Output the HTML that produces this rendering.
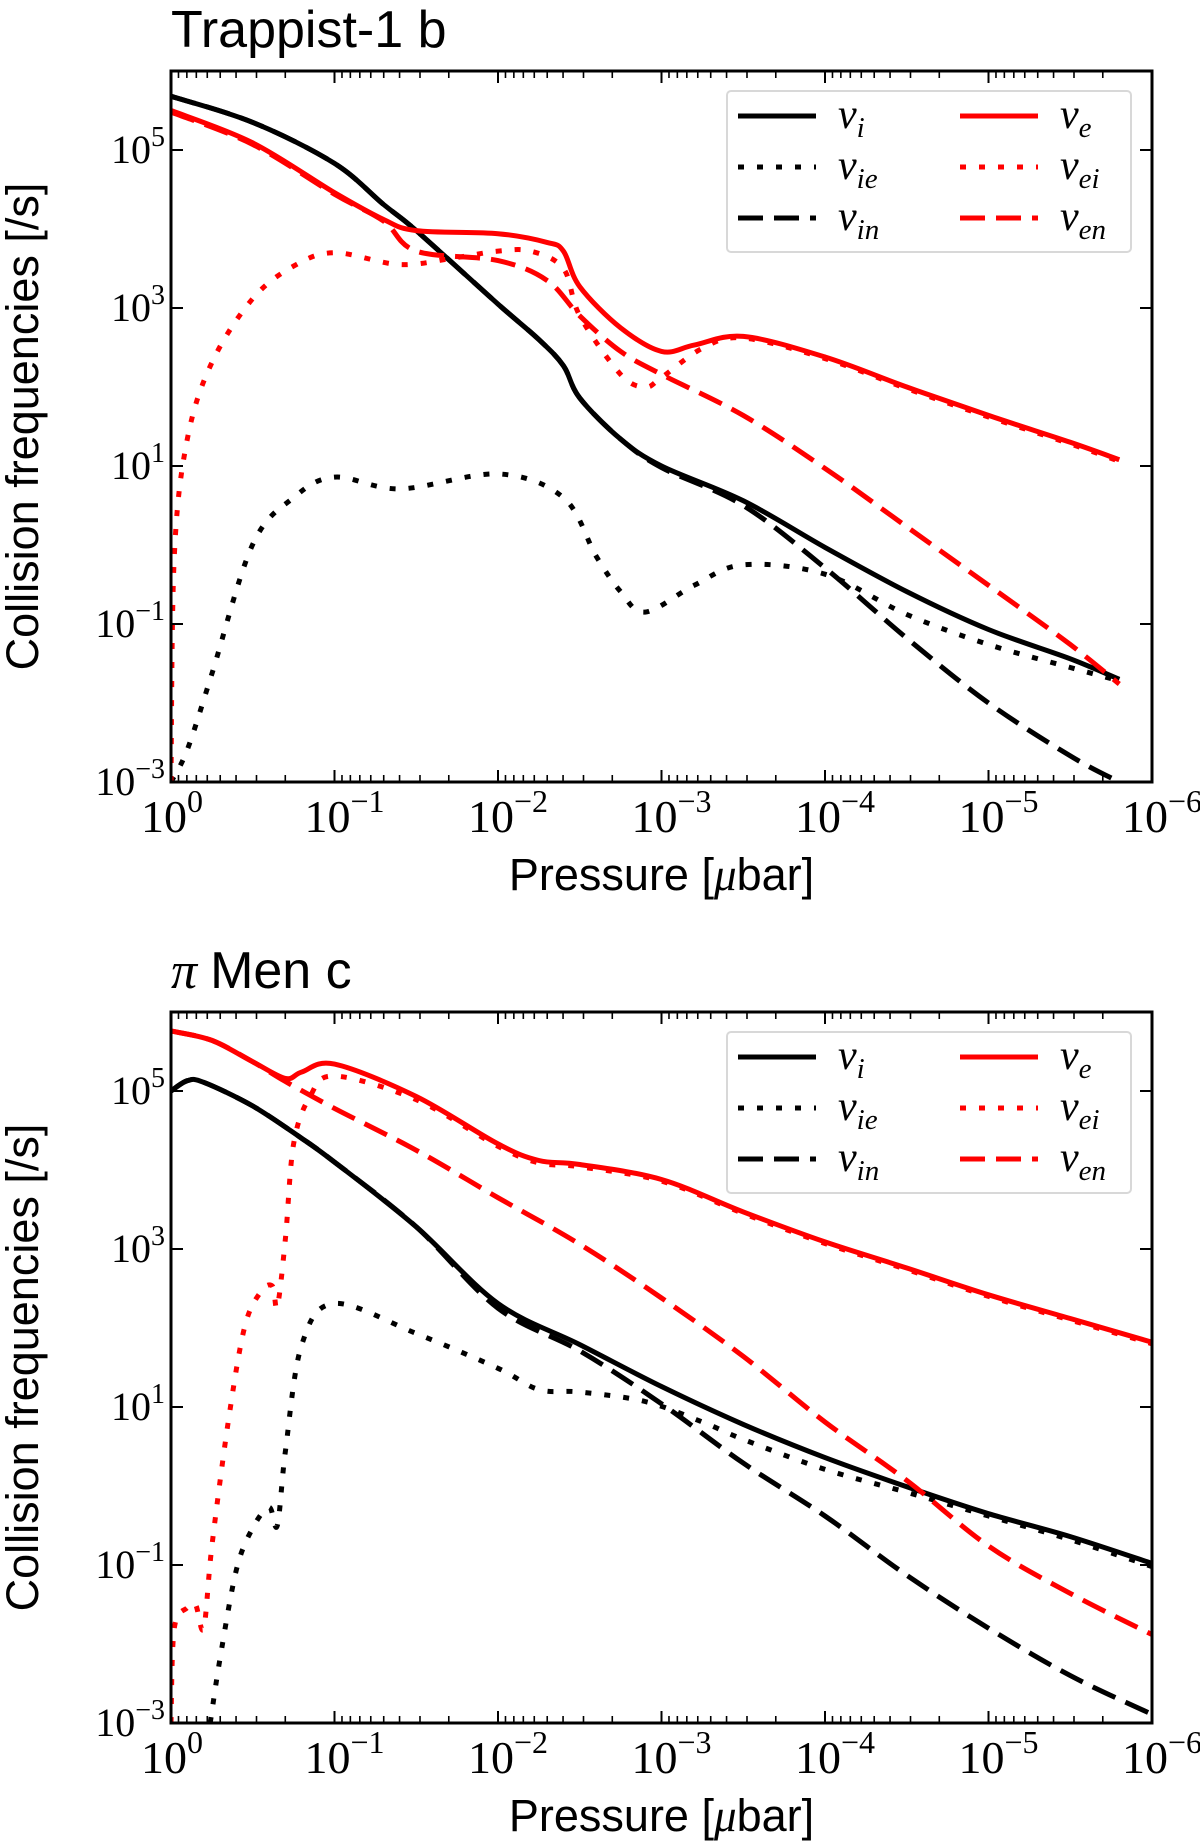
<!DOCTYPE html>
<html><head><meta charset="utf-8"><style>
html,body{margin:0;padding:0;background:#fff;}
svg{display:block;}
text{font-family:"Liberation Sans",sans-serif;}
.tk{font-family:"Liberation Serif",serif;}
</style></head><body>
<svg id="fig" width="1200" height="1847" viewBox="0 0 1200 1847" xmlns="http://www.w3.org/2000/svg"></svg>
<script>
// ===== Data (log10 pressure, log10 frequency) =====
const xTickExps = [0,-1,-2,-3,-4,-5,-6];
const yTickExps = [5,3,1,-1,-3];
const seriesNames = ["nu_i","nu_ie","nu_in","nu_e","nu_ei","nu_en"];

// Trappist-1 b
const t1_x_i = [0,-0.5,-1,-1.3,-1.5,-2,-2.25,-2.4,-2.5,-2.75,-3,-3.5,-4,-4.5,-5,-5.5,-5.8];
const t1_y_i = [5.68,5.35,4.83,4.31,3.98,3.05,2.6,2.27,1.86,1.34,1.0,0.56,-0.03,-0.59,-1.07,-1.44,-1.70];
const t1_x_in = [0,-0.5,-1,-1.3,-1.5,-2,-2.25,-2.4,-2.5,-2.75,-3,-3.5,-4,-4.5,-5,-5.5,-5.8];
const t1_y_in = [5.68,5.35,4.83,4.31,3.98,3.05,2.6,2.27,1.86,1.34,0.98,0.5,-0.29,-1.18,-2.0,-2.67,-3.0];
const t1_x_ie = [0,-0.1,-0.25,-0.5,-0.75,-1,-1.4,-2,-2.4,-2.6,-2.75,-2.9,-3.2,-3.5,-4,-4.5,-5,-5.5,-5.8];
const t1_y_ie = [-3,-2.59,-1.63,0.01,0.6,0.86,0.71,0.9,0.6,-0.14,-0.59,-0.85,-0.51,-0.25,-0.37,-0.88,-1.26,-1.55,-1.72];
const t1_x_e = [0,-0.5,-1,-1.3,-1.5,-2,-2.3,-2.4,-2.5,-2.75,-3,-3.2,-3.5,-4,-4.5,-5,-5.5,-5.8];
const t1_y_e = [5.50,5.09,4.46,4.12,3.98,3.94,3.83,3.72,3.27,2.75,2.45,2.53,2.64,2.38,2.0,1.64,1.30,1.08];
const t1_x_ei = [0,-0.02,-0.1,-0.25,-0.5,-0.75,-1,-1.4,-1.75,-2,-2.2,-2.4,-2.5,-2.75,-2.9,-3,-3.25,-3.5,-4,-4.5,-5,-5.5,-5.8];
const t1_y_ei = [-3,-0.14,1.34,2.31,3.12,3.53,3.70,3.55,3.64,3.72,3.72,3.5,2.9,2.16,2.0,2.12,2.49,2.62,2.36,1.98,1.62,1.28,1.06];
const t1_x_en = [0,-0.5,-1,-1.3,-1.5,-2,-2.3,-2.5,-2.75,-3,-3.5,-4,-4.5,-5,-5.5,-5.8];
const t1_y_en = [5.48,5.07,4.44,4.1,3.72,3.6,3.35,2.9,2.45,2.16,1.64,0.97,0.23,-0.51,-1.26,-1.76];

// pi Men c
const pm_x_i = [0,-0.1,-0.2,-0.5,-0.8,-1,-1.5,-2,-2.5,-3,-3.5,-4,-4.5,-5,-5.5,-6];
const pm_y_i = [5.0,5.13,5.11,4.81,4.40,4.10,3.28,2.31,1.79,1.26,0.78,0.36,-0.01,-0.35,-0.64,-0.98];
const pm_x_in = [0,-0.1,-0.2,-0.5,-0.8,-1,-1.5,-2,-2.5,-3,-3.5,-4,-4.5,-5,-5.5,-6];
const pm_y_in = [5.0,5.13,5.11,4.81,4.40,4.10,3.28,2.25,1.71,1.04,0.29,-0.38,-1.13,-1.8,-2.4,-2.89];
const pm_x_ie = [-0.24,-0.3,-0.4,-0.5,-0.6,-0.65,-0.7,-0.8,-1,-1.5,-2,-2.25,-2.5,-2.9,-3.25,-3.5,-4,-4.5,-5,-5.5,-6];
const pm_y_ie = [-3,-2.18,-1.06,-0.53,-0.27,-0.5,0.44,1.79,2.31,1.93,1.49,1.22,1.19,1.07,0.81,0.59,0.21,-0.08,-0.38,-0.68,-1.02];
const pm_x_e = [0,-0.25,-0.5,-0.7,-0.8,-1,-1.5,-2,-2.25,-2.5,-3,-3.5,-4,-4.5,-5,-5.5,-6];
const pm_y_e = [5.76,5.64,5.37,5.16,5.24,5.34,4.93,4.33,4.12,4.07,3.88,3.47,3.09,2.76,2.42,2.12,1.82];
const pm_x_ei = [0,-0.02,-0.1,-0.15,-0.2,-0.25,-0.35,-0.45,-0.55,-0.62,-0.65,-0.7,-0.75,-0.85,-1,-1.5,-2,-2.25,-2.5,-3,-3.5,-4,-4.5,-5,-5.5,-6];
const pm_y_ei = [-3,-1.8,-1.54,-1.5,-1.8,-0.76,0.81,2.01,2.46,2.53,2.27,3.13,4.33,4.93,5.19,4.89,4.30,4.09,4.04,3.86,3.45,3.07,2.74,2.40,2.10,1.80];
const pm_x_en = [0,-0.25,-0.5,-0.7,-1,-1.5,-2,-2.5,-3,-3.5,-4,-4.5,-5,-5.5,-6];
const pm_y_en = [5.76,5.64,5.37,5.12,4.78,4.25,3.65,3.06,2.38,1.64,0.81,0.07,-0.76,-1.36,-1.88];

const NS="http://www.w3.org/2000/svg";
const fig=document.getElementById('fig');
function mk(tag,attrs,parent){const e=document.createElementNS(NS,tag);for(const k in attrs)e.setAttribute(k,attrs[k]);(parent||fig).appendChild(e);return e;}

const LW=5;
const styles={
 nu_i:{c:"#000",d:""}, nu_ie:{c:"#000",d:"6 13"}, nu_in:{c:"#000",d:"25 11"},
 nu_e:{c:"#ff0000",d:""}, nu_ei:{c:"#ff0000",d:"6 13"}, nu_en:{c:"#ff0000",d:"25 11"}
};
const labelsTex={nu_i:"i",nu_ie:"ie",nu_in:"in",nu_e:"e",nu_ei:"ei",nu_en:"en"};

function spline(pts){
  let d="M"+pts[0][0].toFixed(1)+","+pts[0][1].toFixed(1);
  for(let i=0;i<pts.length-1;i++){
    const p0=pts[i-1]||pts[i],p1=pts[i],p2=pts[i+1],p3=pts[i+2]||p2;
    const c1=[p1[0]+(p2[0]-p0[0])/6,p1[1]+(p2[1]-p0[1])/6];
    const c2=[p2[0]-(p3[0]-p1[0])/6,p2[1]-(p3[1]-p1[1])/6];
    d+=" C"+c1[0].toFixed(1)+","+c1[1].toFixed(1)+" "+c2[0].toFixed(1)+","+c2[1].toFixed(1)+" "+p2[0].toFixed(1)+","+p2[1].toFixed(1);
  }
  return d;
}

function panel(id,title,top,data,piTitle){
  const L=171,R=1152,T=top,B=top+711;
  const xS=lx=>L+(-lx)/6*(R-L);
  const yS=ly=>B-(ly+3)/9*(B-T);
  const g=mk('g',{});
  
  
  const tt=mk('text',{x:171,y:top-24,'font-size':52,fill:'#000'},g);
  
  
  if(piTitle){
    const s=mk('tspan',{'font-family':'Liberation Serif, serif','font-style':'italic'},tt);s.textContent='π ';
    const s2=mk('tspan',{},tt);s2.textContent=title;
  } else tt.textContent=title;
  const cp=mk('clipPath',{id:'clip-'+id},g);
  mk('rect',{x:L,y:T,width:R-L,height:B-T},cp);
  const sg=mk('g',{'clip-path':'url(#clip-'+id+')'},g);
  for(const n of seriesNames){
    const xs=data[n][0],ys=data[n][1];
    const pts=xs.map((x,i)=>[xS(x),yS(ys[i])]);
    const p=mk('path',{d:spline(pts),fill:'none',stroke:styles[n].c,'stroke-width':LW,'stroke-dasharray':styles[n].d||'none','stroke-linejoin':'round'},sg);
    
    
  }
  const fr=mk('rect',{x:L,y:T,width:R-L,height:B-T,fill:'none',stroke:'#000','stroke-width':3},g);
  
  
  for(let e=0;e>=-6;e--){
    const X=xS(e);
    mk('line',{x1:X,y1:B,x2:X,y2:B-12,stroke:'#000','stroke-width':2},g);
    mk('line',{x1:X,y1:T,x2:X,y2:T+12,stroke:'#000','stroke-width':2},g);
    if(e>-6) for(let m=2;m<=9;m++){
      const Xm=xS(e-1+Math.log10(m));
      mk('line',{x1:Xm,y1:B,x2:Xm,y2:B-7,stroke:'#000','stroke-width':1.6},g);
      mk('line',{x1:Xm,y1:T,x2:Xm,y2:T+7,stroke:'#000','stroke-width':1.6},g);
    }
  }
  xTickExps.forEach(e=>{
    const t=mk('text',{x:xS(e)-30,y:B+50,'font-size':46,class:'tk'},g);
    
    
    const a=mk('tspan',{},t);a.textContent='10';
    const b=mk('tspan',{dy:-20,'font-size':32},t);b.textContent=(e<0?'−'+(-e):''+e);
  });
  yTickExps.forEach(e=>{
    const Y=yS(e);
    mk('line',{x1:L,y1:Y,x2:L+12,y2:Y,stroke:'#000','stroke-width':2},g);
    mk('line',{x1:R,y1:Y,x2:R-12,y2:Y,stroke:'#000','stroke-width':2},g);
    const t=mk('text',{x:165,y:Y+13,'font-size':40,class:'tk','text-anchor':'end'},g);
    
    
    const a=mk('tspan',{},t);a.textContent='10';
    const b=mk('tspan',{dy:-17,'font-size':28},t);b.textContent=(e<0?'−'+(-e):''+e);
  });
  const xl=mk('text',{x:(L+R)/2,y:B+108,'font-size':45,'text-anchor':'middle'},g);
  
  
  const x1=mk('tspan',{},xl);x1.textContent='Pressure [';
  const x2=mk('tspan',{'font-family':'Liberation Serif, serif','font-style':'italic'},xl);x2.textContent='μ';
  const x3=mk('tspan',{},xl);x3.textContent='bar]';
  const yl=mk('text',{x:0,y:0,'font-size':45,'text-anchor':'middle',transform:'translate(38,'+((T+B)/2)+') rotate(-90)'},g);
  
  
  yl.textContent='Collision frequencies [/s]';
  const lg=mk('g',{},g);
  
  
  mk('rect',{x:727,y:T+20,width:404,height:161,rx:4,fill:'#fff',stroke:'#d8d8d8','stroke-width':2},lg);
  const order=[["nu_i",0,0],["nu_ie",0,1],["nu_in",0,2],["nu_e",1,0],["nu_ei",1,1],["nu_en",1,2]];
  order.forEach(([n,c,r])=>{
    const lx=c?960:738, ly=T+45+r*51;
    const ent=mk('g',{},lg);
    
    
    mk('line',{x1:lx,y1:ly,x2:lx+78,y2:ly,stroke:styles[n].c,'stroke-width':LW,'stroke-dasharray':styles[n].d||'none'},ent);
    const t=mk('text',{x:lx+100,y:ly+12,'font-size':42,class:'tk','font-style':'italic'},ent);
    const a=mk('tspan',{},t);a.textContent='ν';
    const b=mk('tspan',{dy:9,'font-size':29},t);b.textContent=labelsTex[n];
  });
}

panel('trappist','Trappist-1 b',71,{
  nu_i:[t1_x_i,t1_y_i],nu_ie:[t1_x_ie,t1_y_ie],nu_in:[t1_x_in,t1_y_in],
  nu_e:[t1_x_e,t1_y_e],nu_ei:[t1_x_ei,t1_y_ei],nu_en:[t1_x_en,t1_y_en]},false);
panel('pimen','Men c',1012,{
  nu_i:[pm_x_i,pm_y_i],nu_ie:[pm_x_ie,pm_y_ie],nu_in:[pm_x_in,pm_y_in],
  nu_e:[pm_x_e,pm_y_e],nu_ei:[pm_x_ei,pm_y_ei],nu_en:[pm_x_en,pm_y_en]},true);
</script>
</body></html>
